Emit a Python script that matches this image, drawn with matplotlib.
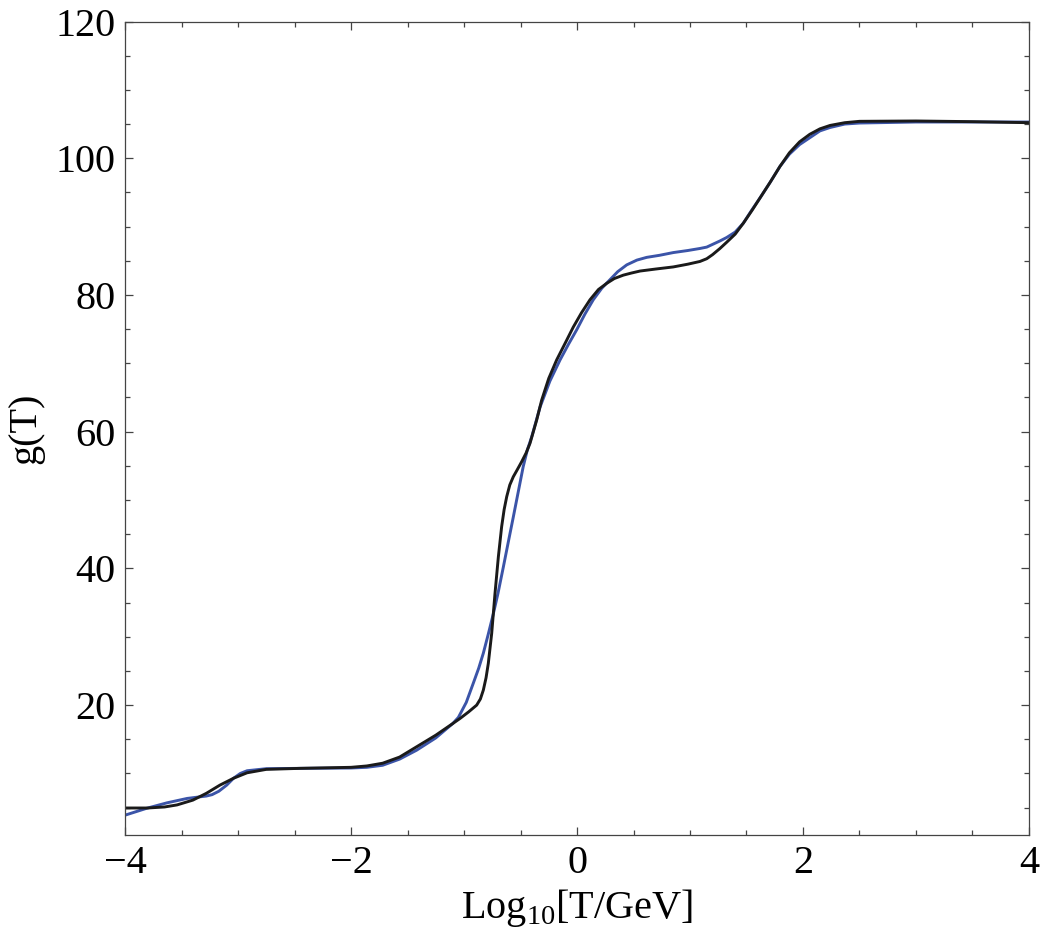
import numpy as np
import matplotlib
matplotlib.use("Agg")
import matplotlib.pyplot as plt
from matplotlib.ticker import MultipleLocator

plt.rcParams['font.family'] = ['Liberation Serif', 'DejaVu Serif']
plt.rcParams['mathtext.fontset'] = 'custom'
plt.rcParams['mathtext.rm'] = 'Liberation Serif'

# g(T) vs log10(T/GeV), black = fit, blue = reference curve
logT_black = [-4.0, -3.8, -3.65, -3.54, -3.40, -3.28, -3.16, -3.04, -2.92, -2.75,
              -2.45, -2.0, -1.86, -1.72, -1.57, -1.42, -1.25, -1.10, -1.035, -0.96,
              -0.888, -0.855, -0.829, -0.805, -0.785, -0.755, -0.726, -0.696, -0.667, -0.645,
              -0.622, -0.595, -0.564, -0.53, -0.49, -0.45, -0.416, -0.357, -0.313, -0.25,
              -0.18, -0.10, -0.033, 0.04, 0.115, 0.19, 0.263, 0.33, 0.41, 0.48,
              0.558, 0.70, 0.852, 0.98, 1.088, 1.148, 1.20, 1.265, 1.324, 1.40,
              1.472, 1.55, 1.62, 1.71, 1.796, 1.88, 1.97, 2.06, 2.15, 2.24,
              2.37, 2.50, 3.0, 3.5, 4.0]
g_black = [4.95, 4.95, 5.1, 5.4, 6.1, 7.1, 8.3, 9.3, 10.1, 10.6,
           10.75, 10.9, 11.1, 11.5, 12.4, 13.9, 15.6, 17.3, 18.05, 19.0,
           20.0, 20.9, 22.2, 24.0, 26.1, 30.5, 36.3, 41.7, 46.1, 48.6,
           50.5, 52.2, 53.4, 54.4, 55.6, 56.9, 58.3, 61.7, 64.6, 67.8,
           70.5, 73.1, 75.3, 77.4, 79.3, 80.8, 81.7, 82.4, 82.9, 83.2,
           83.5, 83.8, 84.1, 84.5, 84.9, 85.3, 85.9, 86.8, 87.7, 88.9,
           90.5, 92.4, 94.2, 96.5, 98.8, 100.8, 102.4, 103.5, 104.3, 104.8,
           105.2, 105.4, 105.45, 105.35, 105.2]

logT_blue = [-4.0, -3.81, -3.63, -3.45, -3.28, -3.23, -3.17, -3.10, -3.04, -2.98,
             -2.92, -2.75, -2.45, -2.0, -1.86, -1.72, -1.57, -1.42, -1.25, -1.10,
             -1.05, -0.98, -0.918, -0.87, -0.829, -0.785, -0.74, -0.70, -0.652, -0.61,
             -0.564, -0.52, -0.476, -0.44, -0.40, -0.327, -0.24, -0.15, -0.075, -0.003,
             0.07, 0.144, 0.22, 0.29, 0.36, 0.44, 0.53, 0.617, 0.73, 0.852,
             0.98, 1.088, 1.148, 1.20, 1.265, 1.324, 1.40, 1.472, 1.546, 1.62,
             1.71, 1.796, 1.88, 1.97, 2.06, 2.15, 2.24, 2.37, 2.50, 3.0,
             3.5, 4.0]
g_blue = [3.9, 4.9, 5.7, 6.35, 6.7, 6.9, 7.4, 8.3, 9.3, 10.0,
          10.4, 10.7, 10.75, 10.8, 10.9, 11.2, 12.1, 13.4, 15.2, 17.3,
          18.2, 20.4, 23.2, 25.4, 27.6, 30.4, 33.4, 36.3, 40.2, 43.7,
          47.5, 51.2, 54.9, 57.3, 59.3, 63.6, 67.4, 70.5, 72.8, 74.9,
          77.2, 79.3, 81.0, 82.2, 83.4, 84.4, 85.1, 85.5, 85.8, 86.2,
          86.5, 86.8, 87.0, 87.4, 87.9, 88.4, 89.2, 90.5, 92.4, 94.2,
          96.5, 98.8, 100.6, 102.0, 103.0, 104.0, 104.5, 105.0, 105.15, 105.3,
          105.3, 105.3]

fig = plt.figure(figsize=(10.42, 9.48), dpi=100)
ax = fig.add_axes([0.120, 0.1192, 0.8675, 0.8581])

ax.plot(logT_blue, g_blue, color='#3b54a8', lw=2.1, solid_joinstyle='round')
ax.plot(logT_black, g_black, color='#1a1a1a', lw=2.1, solid_joinstyle='round')

ax.set_xlim(-4, 4)
ax.set_ylim(1.0, 120)
ax.xaxis.set_major_locator(MultipleLocator(2))
ax.xaxis.set_minor_locator(MultipleLocator(0.5))
ax.yaxis.set_minor_locator(MultipleLocator(5))
ax.set_yticks([20, 40, 60, 80, 100, 120])

ax.tick_params(which='both', direction='in', top=True, right=True,
               labelsize=29, color='#444444', width=0.9)
ax.tick_params(which='major', length=5.5, pad=7)
ax.tick_params(which='minor', length=3.5)
for s in ax.spines.values():
    s.set_color('#444444')
    s.set_linewidth(0.9)

ax.set_xlabel(r'Log$_{10}$[T/GeV]', fontsize=29, labelpad=4)
ax.set_ylabel('g(T)', fontsize=29, labelpad=8)

fig.savefig('out.png', dpi=100)
